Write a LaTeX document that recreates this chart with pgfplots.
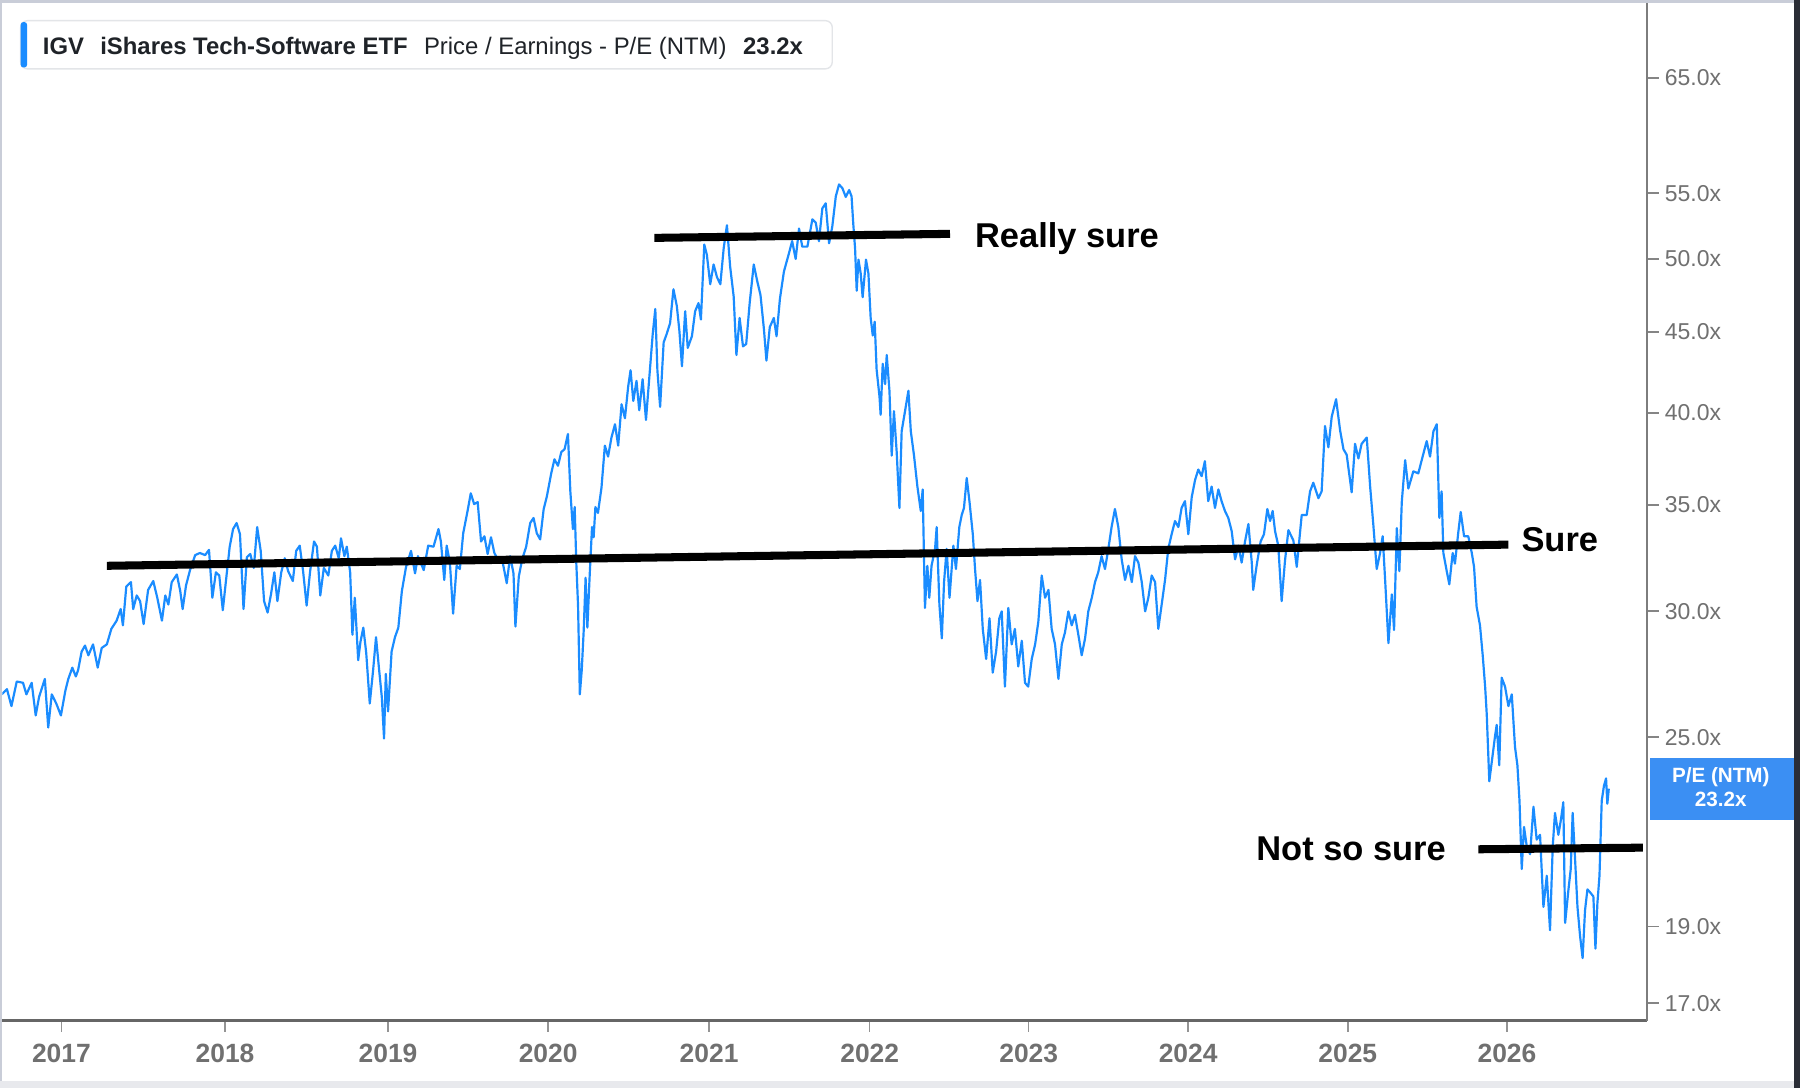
\documentclass[border=0pt]{standalone}
\usepackage{pgfplots}
\usepackage{pgfplotstable}
\pgfplotsset{compat=1.18}
\usepackage{fontspec}
\setmainfont{Liberation Sans}
\definecolor{lineblue}{HTML}{1A8CFF}
\definecolor{boxblue}{HTML}{3B8FF3}
\definecolor{tickgray}{HTML}{707070}
\definecolor{axisgray}{HTML}{666666}
\definecolor{bordergray}{HTML}{C9CDD8}
\definecolor{bottomgray}{HTML}{E8E9ED}
\definecolor{darkedge}{HTML}{2A2D36}
\definecolor{legendborder}{HTML}{E3E5E8}
\definecolor{txtdark}{HTML}{1F2328}

\pgfplotstableread{
x y
2016.632 26.6
2016.664 26.8
2016.692 26.15
2016.725 27.1
2016.764 27.05
2016.785 26.6
2016.818 27.05
2016.843 25.8
2016.864 26.5
2016.900 27.2
2016.921 25.35
2016.943 26.6
2016.971 26.25
2017.000 25.8
2017.028 26.75
2017.046 27.2
2017.071 27.65
2017.093 27.3
2017.107 27.55
2017.129 28.3
2017.150 28.55
2017.171 28.15
2017.200 28.6
2017.229 27.65
2017.254 28.45
2017.286 28.6
2017.314 29.25
2017.347 29.6
2017.372 30.1
2017.386 29.4
2017.407 31.1
2017.436 31.3
2017.450 30.1
2017.472 30.7
2017.493 30.45
2017.515 29.45
2017.543 30.95
2017.575 31.35
2017.600 30.6
2017.629 29.6
2017.650 30.7
2017.669 30.3
2017.690 31.3
2017.722 31.65
2017.743 30.9
2017.758 30.1
2017.779 31.15
2017.804 31.85
2017.836 32.55
2017.865 32.65
2017.898 32.55
2017.922 32.8
2017.943 30.6
2017.965 31.75
2017.986 31.6
2018.008 30.05
2018.029 31.45
2018.051 32.95
2018.072 33.8
2018.094 34.1
2018.115 33.55
2018.137 30.1
2018.158 32.45
2018.179 32.6
2018.201 31.95
2018.222 33.9
2018.244 32.75
2018.265 30.45
2018.287 29.95
2018.308 30.75
2018.329 31.75
2018.348 30.45
2018.372 31.75
2018.394 32.4
2018.415 31.8
2018.444 31.35
2018.465 32.75
2018.487 33.0
2018.508 31.8
2018.530 30.25
2018.551 31.75
2018.576 33.2
2018.594 32.95
2018.615 30.7
2018.637 31.95
2018.665 31.6
2018.687 32.75
2018.708 33.0
2018.730 32.4
2018.744 33.35
2018.765 32.5
2018.780 32.95
2018.801 31.75
2018.815 29.0
2018.830 30.6
2018.851 27.95
2018.865 28.7
2018.883 29.3
2018.901 28.25
2018.923 26.25
2018.944 27.55
2018.962 28.9
2018.980 27.65
2018.998 26.5
2019.012 24.95
2019.023 27.4
2019.037 25.95
2019.059 28.3
2019.080 28.9
2019.101 29.3
2019.123 30.9
2019.149 32.0
2019.180 32.75
2019.205 31.7
2019.223 32.5
2019.259 31.85
2019.287 33.0
2019.320 32.95
2019.351 33.8
2019.366 33.2
2019.387 31.4
2019.402 33.0
2019.422 32.2
2019.442 29.9
2019.464 32.05
2019.484 31.9
2019.505 33.6
2019.532 34.7
2019.552 35.6
2019.573 35.05
2019.595 35.15
2019.616 33.2
2019.637 33.45
2019.657 32.6
2019.678 33.4
2019.699 32.65
2019.720 32.35
2019.751 32.2
2019.776 31.25
2019.797 32.5
2019.818 31.7
2019.830 29.35
2019.851 31.55
2019.872 32.35
2019.897 32.95
2019.922 34.1
2019.943 34.35
2019.963 33.6
2019.984 33.3
2020.006 34.8
2020.026 35.45
2020.053 36.65
2020.073 37.4
2020.095 37.05
2020.116 37.8
2020.136 37.95
2020.157 38.8
2020.172 35.7
2020.188 33.8
2020.199 34.9
2020.209 32.2
2020.220 30.25
2020.231 26.6
2020.243 27.55
2020.255 29.15
2020.267 31.5
2020.278 29.3
2020.293 31.7
2020.307 33.9
2020.317 33.4
2020.328 34.9
2020.344 34.6
2020.366 35.9
2020.374 36.75
2020.387 38.15
2020.407 37.55
2020.428 38.6
2020.450 39.35
2020.470 38.15
2020.491 40.5
2020.512 39.7
2020.532 41.55
2020.547 42.55
2020.564 40.7
2020.584 41.9
2020.601 40.15
2020.622 42.0
2020.643 39.6
2020.664 42.15
2020.685 44.85
2020.701 46.5
2020.714 42.55
2020.731 40.35
2020.753 44.3
2020.772 44.85
2020.793 45.55
2020.814 47.85
2020.835 46.7
2020.851 45.05
2020.867 42.8
2020.887 46.35
2020.903 43.95
2020.929 44.7
2020.949 46.35
2020.970 46.9
2020.985 45.8
2021.006 51.05
2021.022 50.3
2021.043 48.2
2021.064 49.6
2021.085 48.7
2021.106 48.2
2021.127 50.8
2021.147 52.5
2021.167 49.45
2021.189 47.35
2021.206 43.5
2021.226 45.9
2021.247 44.05
2021.267 44.2
2021.289 46.95
2021.314 49.6
2021.335 48.45
2021.356 47.45
2021.377 45.2
2021.393 43.15
2021.414 45.3
2021.439 45.9
2021.456 44.7
2021.477 47.2
2021.502 49.1
2021.533 50.4
2021.553 51.3
2021.575 50.0
2021.596 52.25
2021.616 50.9
2021.648 50.9
2021.679 52.95
2021.700 52.7
2021.720 51.3
2021.741 53.8
2021.762 54.2
2021.783 51.15
2021.803 52.4
2021.825 54.75
2021.845 55.7
2021.866 55.4
2021.887 54.7
2021.908 55.25
2021.923 54.75
2021.934 52.55
2021.945 50.75
2021.955 47.75
2021.966 49.95
2021.980 48.95
2021.992 47.3
2022.013 49.95
2022.028 48.95
2022.042 45.9
2022.055 44.75
2022.067 45.65
2022.079 42.6
2022.097 40.95
2022.104 39.9
2022.117 42.95
2022.132 41.7
2022.142 43.5
2022.159 41.3
2022.173 37.6
2022.187 40.1
2022.204 37.8
2022.221 34.85
2022.235 38.95
2022.256 40.1
2022.277 41.3
2022.292 38.95
2022.312 37.6
2022.333 35.95
2022.354 34.7
2022.366 35.8
2022.380 30.15
2022.395 32.05
2022.407 30.6
2022.421 32.05
2022.443 32.85
2022.453 33.9
2022.470 30.3
2022.485 28.85
2022.499 31.3
2022.515 32.85
2022.533 30.6
2022.557 33.0
2022.573 31.9
2022.594 33.9
2022.609 34.5
2022.623 34.85
2022.640 36.4
2022.657 35.2
2022.678 33.55
2022.692 31.9
2022.707 30.45
2022.723 31.4
2022.740 29.25
2022.761 28.0
2022.782 29.7
2022.802 27.45
2022.823 28.3
2022.843 29.7
2022.858 30.0
2022.878 26.9
2022.899 30.15
2022.920 28.6
2022.940 29.25
2022.961 27.7
2022.983 28.75
2023.003 27.05
2023.023 26.9
2023.045 28.0
2023.066 28.6
2023.086 29.55
2023.107 31.6
2023.128 30.6
2023.149 30.95
2023.169 29.25
2023.190 28.6
2023.211 27.2
2023.232 28.6
2023.252 29.1
2023.273 30.0
2023.294 29.4
2023.314 29.85
2023.335 29.0
2023.356 28.15
2023.377 28.85
2023.397 30.0
2023.419 30.6
2023.439 31.3
2023.459 31.75
2023.480 32.5
2023.501 31.9
2023.522 32.85
2023.542 33.9
2023.563 34.8
2023.584 33.9
2023.605 32.35
2023.626 31.4
2023.647 32.05
2023.668 31.3
2023.688 32.5
2023.709 32.2
2023.730 31.3
2023.751 30.0
2023.771 30.6
2023.792 31.6
2023.813 31.3
2023.833 29.25
2023.854 30.3
2023.875 31.4
2023.895 32.85
2023.916 33.55
2023.937 34.2
2023.958 33.9
2023.978 34.85
2023.999 35.2
2024.020 33.55
2024.041 35.4
2024.062 36.3
2024.082 36.85
2024.103 36.5
2024.123 37.3
2024.144 35.2
2024.165 35.95
2024.186 34.85
2024.207 35.8
2024.227 35.2
2024.248 34.7
2024.269 34.35
2024.290 33.7
2024.311 32.35
2024.332 33.0
2024.352 32.2
2024.373 33.2
2024.394 34.05
2024.415 32.2
2024.424 30.95
2024.445 32.05
2024.470 33.2
2024.491 33.55
2024.512 34.8
2024.529 34.2
2024.545 34.7
2024.560 33.7
2024.580 33.0
2024.601 30.45
2024.622 32.3
2024.643 33.75
2024.674 33.25
2024.695 32.0
2024.726 34.5
2024.757 34.5
2024.778 35.7
2024.798 36.15
2024.830 35.35
2024.850 35.7
2024.871 39.25
2024.892 38.05
2024.913 39.8
2024.940 40.8
2024.965 39.0
2024.986 37.95
2025.006 37.65
2025.037 35.65
2025.058 38.25
2025.079 37.45
2025.099 38.25
2025.131 38.6
2025.152 35.95
2025.172 34.0
2025.193 31.9
2025.214 32.65
2025.230 33.45
2025.245 31.45
2025.266 28.65
2025.287 30.75
2025.301 29.2
2025.318 33.85
2025.334 31.8
2025.349 35.15
2025.370 37.35
2025.390 35.85
2025.421 36.75
2025.452 36.65
2025.473 37.35
2025.504 38.4
2025.525 37.55
2025.546 38.95
2025.567 39.35
2025.583 34.35
2025.597 35.7
2025.608 32.65
2025.629 31.8
2025.645 31.2
2025.666 32.65
2025.680 32.15
2025.701 33.65
2025.716 34.65
2025.737 33.45
2025.763 33.45
2025.785 32.65
2025.799 32.0
2025.815 30.2
2025.836 29.4
2025.853 28.15
2025.868 26.9
2025.878 25.85
2025.894 23.45
2025.909 24.1
2025.930 25.05
2025.940 25.45
2025.956 24.0
2025.971 27.25
2025.992 26.9
2026.013 26.15
2026.034 26.6
2026.054 24.65
2026.069 24.0
2026.082 22.8
2026.096 20.65
2026.110 21.95
2026.127 21.35
2026.148 21.1
2026.169 22.6
2026.189 21.55
2026.210 21.7
2026.231 19.55
2026.252 20.45
2026.272 18.9
2026.289 21.35
2026.303 22.4
2026.324 21.7
2026.339 22.15
2026.355 22.75
2026.366 19.1
2026.387 20.05
2026.401 20.65
2026.413 22.4
2026.428 20.95
2026.443 19.55
2026.459 18.75
2026.475 18.15
2026.490 19.45
2026.505 20.05
2026.525 19.95
2026.542 19.85
2026.555 18.4
2026.567 19.65
2026.580 20.45
2026.594 22.8
2026.608 23.3
2026.621 23.55
2026.629 22.7
2026.638 23.2
}\pedata

\begin{document}
\begin{tikzpicture}[x=1pt,y=1pt]
\fill[white] (0,0) rectangle (784,474);
\fill[bordergray] (0,472.8) rectangle (784,474);
\fill[bordergray] (0,0) rectangle (1,474);
\fill[bottomgray] (0,0) rectangle (784,3);
\fill[darkedge] (781.5,0) rectangle (784,474);
\begin{axis}[
  at={(1pt,29.5pt)}, anchor=south west, scale only axis,
  width=716.5pt, height=443pt,
  xmin=2016.635, xmax=2026.878,
  ymode=log, ymin=16.58, ymax=72.42,
  axis x line*=bottom, axis y line*=right,
  x axis line style={axisgray, line width=1.2pt},
  y axis line style={axisgray!85, line width=0.8pt},
  xtick={2017.003,2018.022,2019.037,2020.034,2021.036,2022.036,2023.026,2024.019,2025.013,2026.004},
  xticklabels={2017,2018,2019,2020,2021,2022,2023,2024,2025,2026},
  ytick={17,19,25,30,35,40,45,50,55,65},
  yticklabels={17.0x,19.0x,25.0x,30.0x,35.0x,40.0x,45.0x,50.0x,55.0x,65.0x},
  yminorticks=false, xminorticks=false,
  tick align=outside, major tick length=5pt,
  xtick style={axisgray!70, line width=0.6pt},
  ytick style={axisgray!80, line width=0.8pt},
  xticklabel style={font=\fontsize{11.5}{13}\selectfont\bfseries, text=tickgray, anchor=base, inner sep=0pt, yshift=-13.5pt},
  yticklabel style={font=\fontsize{10}{12}\selectfont, text=tickgray, anchor=west, inner sep=0pt, xshift=2.5pt},
  clip=true,
]
\addplot[lineblue, line width=0.95pt, line join=round] table {\pedata};
\addplot[black, line width=3.5pt] coordinates {(2020.695,51.55) (2022.536,51.85)};
\addplot[black, line width=3.5pt] coordinates {(2017.286,32.05) (2026.013,33.05)};
\addplot[black, line width=3.5pt] coordinates {(2025.826,21.25) (2026.850,21.3)};
\end{axis}
% annotations
\node[anchor=base west, inner sep=0pt, font=\fontsize{15}{18}\selectfont\bfseries] at (424.5,366.2) {Really sure};
\node[anchor=base west, inner sep=0pt, font=\fontsize{15}{18}\selectfont\bfseries] at (662.5,233.6) {Sure};
\node[anchor=base west, inner sep=0pt, font=\fontsize{15}{18}\selectfont\bfseries] at (547,99.1) {Not so sure};
% legend box
\draw[legendborder, fill=white, rounded corners=3pt, line width=0.6pt] (9,444) rectangle (362.5,465);
\fill[lineblue, rounded corners=1.2pt] (9,444.6) rectangle (11.8,464.4);
\node[anchor=base west, inner sep=0pt, text=txtdark, font=\fontsize{10.4}{12}\selectfont\bfseries] at (18.5,450.3) {IGV};
\node[anchor=base west, inner sep=0pt, text=txtdark, font=\fontsize{10.4}{12}\selectfont\bfseries] at (43.5,450.3) {iShares Tech-Software ETF};
\node[anchor=base west, inner sep=0pt, text=txtdark, font=\fontsize{10.4}{12}\selectfont] at (184.5,450.3) {Price / Earnings - P/E (NTM)};
\node[anchor=base west, inner sep=0pt, text=txtdark, font=\fontsize{10.4}{12}\selectfont\bfseries] at (323.5,450.3) {23.2x};
% current value box
\fill[boxblue] (718.5,117) rectangle (781.5,144);
\node[text=white, inner sep=0pt, font=\fontsize{9}{10}\selectfont\bfseries] at (749.5,135.5) {P/E (NTM)};
\node[text=white, inner sep=0pt, font=\fontsize{9}{10}\selectfont\bfseries] at (749.5,126) {23.2x};
\end{tikzpicture}
\end{document}
